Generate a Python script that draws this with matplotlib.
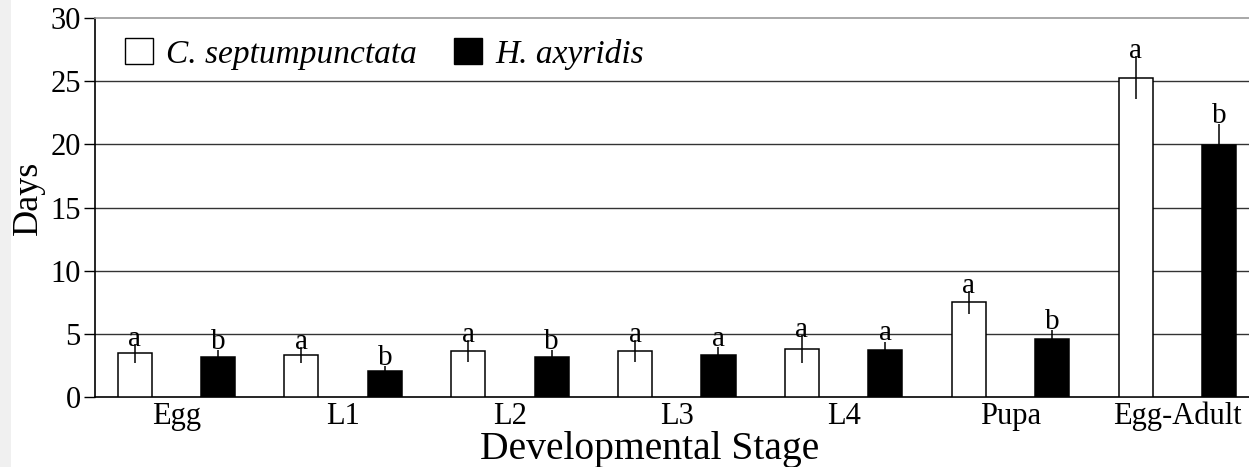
import numpy as np
import matplotlib
matplotlib.use("Agg")
import matplotlib.pyplot as plt
from matplotlib.patches import Patch, Rectangle

plt.rcParams["font.family"] = ["Liberation Serif", "DejaVu Serif"]

stages = ["Egg", "L1", "L2", "L3", "L4", "Pupa", "Egg-Adult"]
c7_mean = [3.48, 3.34, 3.68, 3.68, 3.84, 7.51, 25.27]
c7_err = [0.75, 0.65, 0.85, 0.86, 1.10, 0.90, 1.70]
c7_letters = ["a", "a", "a", "a", "a", "a", "a"]
ha_mean = [3.21, 2.08, 3.21, 3.34, 3.74, 4.58, 19.94]
ha_err = [0.53, 0.40, 0.53, 0.66, 0.66, 0.75, 1.65]
ha_letters = ["b", "b", "b", "a", "a", "b", "b"]


def main():
    fig = plt.figure(figsize=(12.49, 4.67), dpi=100)
    # faint grey strip at the left edge of the original scan
    fig.patches.append(Rectangle((0, 0), 0.009, 1, transform=fig.transFigure,
                                 facecolor="#f0f0f0", edgecolor="none"))
    ax = fig.add_axes([0.0757, 0.149, 0.9243, 0.813])

    x = np.arange(len(stages))
    w = 0.204
    off = 0.25

    ax.bar(x - off, c7_mean, w, color="white", edgecolor="black", linewidth=1.1, zorder=3)
    ax.bar(x + off, ha_mean, w, color="black", edgecolor="black", linewidth=1.1, zorder=3)
    ax.errorbar(x - off, c7_mean, yerr=c7_err, fmt="none", ecolor="black",
                elinewidth=1.1, capsize=0, zorder=4)
    ax.errorbar(x + off, ha_mean, yerr=ha_err, fmt="none", ecolor="black",
                elinewidth=1.1, capsize=0, zorder=4)

    for xi, m, e, t in zip(x - off, c7_mean, c7_err, c7_letters):
        ax.text(xi, m + e - 0.15, t, ha="center", va="baseline", fontsize=21, zorder=5)
    for xi, m, e, t in zip(x + off, ha_mean, ha_err, ha_letters):
        ax.text(xi, m + e + 0.1, t, ha="center", va="baseline", fontsize=21, zorder=5)

    ax.set_xlim(-0.49, 6.43)
    ax.set_ylim(0, 30)
    ax.set_yticks(range(0, 31, 5))
    ax.set_xticks(x)
    ax.set_xticklabels(stages)
    ax.tick_params(axis="x", length=0, labelsize=22, pad=3)
    ax.tick_params(axis="y", length=8, width=1, labelsize=22, pad=2, direction="out")

    for yv in range(5, 30, 5):
        ax.axhline(yv, color="#333333", linewidth=1.0, zorder=1)

    ax.spines["right"].set_visible(False)
    ax.spines["top"].set_color("#999999")
    ax.spines["top"].set_linewidth(1.2)
    ax.spines["left"].set_linewidth(1.2)
    ax.spines["bottom"].set_linewidth(1.2)

    ax.set_ylabel("Days", fontsize=26)
    ax.yaxis.set_label_coords(-0.043, 0.525)
    ax.set_xlabel("Developmental Stage", fontsize=28.5)
    ax.xaxis.set_label_coords(0.481, -0.088)

    handles = [Patch(facecolor="white", edgecolor="black", linewidth=1.0),
               Patch(facecolor="black", edgecolor="black", linewidth=1.0)]
    ax.legend(handles, ["C. septumpunctata", "H. axyridis"], loc="upper left",
              bbox_to_anchor=(0.0, 1.025), ncol=2, frameon=False,
              prop={"style": "italic", "size": 24}, handlelength=0.85,
              handleheight=0.8, handletextpad=0.4, columnspacing=1.1)

    fig.savefig("out.png", dpi=100)


if __name__ == "__main__":
    main()
